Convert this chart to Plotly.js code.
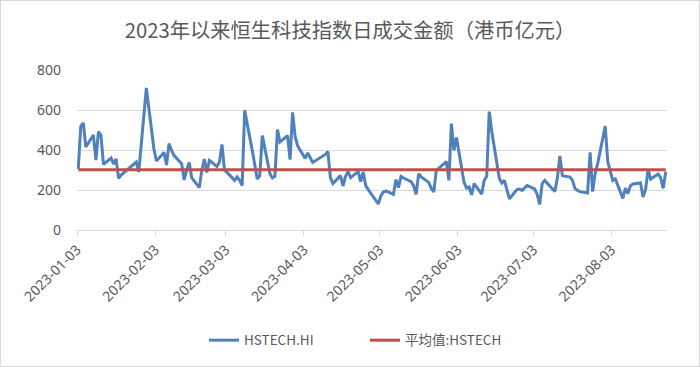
<!DOCTYPE html>
<html>
<head>
<meta charset="utf-8">
<script src="https://cdn.plot.ly/plotly-3.0.1.min.js"></script>
<style>
html,body{margin:0;padding:0;background:#fff;}
#wrap{position:relative;width:700px;height:367px;}
#chart{width:700px;height:367px;}
#frame{position:absolute;left:0;top:0;width:700px;height:367px;box-sizing:border-box;border:1px solid #d9d9d9;pointer-events:none;}
</style>
</head>
<body>
<div id="wrap"><div id="chart"></div><div id="frame"></div></div>
<script>
const titleText = '2023年以来恒生科技指数日成交金额（港币亿元）';
const seriesName = 'HSTECH.HI';
const avgName = '平均值:HSTECH';

const dates = [
'2023-01-03','2023-01-04','2023-01-05','2023-01-06','2023-01-09','2023-01-10','2023-01-11','2023-01-12','2023-01-13',
'2023-01-16','2023-01-17','2023-01-18','2023-01-19','2023-01-20','2023-01-26','2023-01-27','2023-01-30','2023-01-31',
'2023-02-01','2023-02-02','2023-02-03','2023-02-06','2023-02-07','2023-02-08','2023-02-09','2023-02-10',
'2023-02-13','2023-02-14','2023-02-15','2023-02-16','2023-02-17','2023-02-20','2023-02-21','2023-02-22','2023-02-23','2023-02-24',
'2023-02-27','2023-02-28',
'2023-03-01','2023-03-02','2023-03-03','2023-03-06','2023-03-07','2023-03-08','2023-03-09','2023-03-10',
'2023-03-13','2023-03-14','2023-03-15','2023-03-16','2023-03-17','2023-03-20','2023-03-21','2023-03-22','2023-03-23','2023-03-24',
'2023-03-27','2023-03-28','2023-03-29','2023-03-30','2023-03-31',
'2023-04-03','2023-04-04','2023-04-06','2023-04-11','2023-04-12','2023-04-13','2023-04-14',
'2023-04-17','2023-04-18','2023-04-19','2023-04-20','2023-04-21','2023-04-24','2023-04-25','2023-04-26','2023-04-27','2023-04-28',
'2023-05-02','2023-05-03','2023-05-04','2023-05-05','2023-05-08','2023-05-09','2023-05-10','2023-05-11','2023-05-12',
'2023-05-15','2023-05-16','2023-05-17','2023-05-18','2023-05-19','2023-05-22','2023-05-23','2023-05-24','2023-05-25',
'2023-05-29','2023-05-30','2023-05-31',
'2023-06-01','2023-06-02','2023-06-05','2023-06-06','2023-06-07','2023-06-08','2023-06-09',
'2023-06-12','2023-06-13','2023-06-14','2023-06-15','2023-06-16','2023-06-19','2023-06-20','2023-06-21','2023-06-23',
'2023-06-26','2023-06-27','2023-06-28','2023-06-29','2023-06-30',
'2023-07-03','2023-07-04','2023-07-05','2023-07-06','2023-07-07','2023-07-10','2023-07-11','2023-07-12','2023-07-13','2023-07-14',
'2023-07-17','2023-07-18','2023-07-19','2023-07-20','2023-07-21','2023-07-24','2023-07-25','2023-07-26','2023-07-27','2023-07-28',
'2023-07-31',
'2023-08-01','2023-08-02','2023-08-03','2023-08-04','2023-08-07','2023-08-08','2023-08-09','2023-08-10','2023-08-11',
'2023-08-14','2023-08-15','2023-08-16','2023-08-17','2023-08-18','2023-08-21','2023-08-22','2023-08-23','2023-08-24'
];

const turnover = [
305,520,535,415,475,350,492,475,328,
360,330,355,258,275,340,290,710,600,
485,405,345,388,325,432,398,372,
332,250,300,338,262,212,298,355,288,348,
318,340,
428,300,288,248,265,248,222,598,
398,328,255,272,472,282,260,268,502,440,
472,352,588,468,420,
358,385,338,378,392,262,232,
272,220,268,292,262,292,242,290,222,202,
130,170,190,195,178,252,212,268,260,
242,222,178,282,265,238,208,190,298,
342,248,532,
398,462,238,210,215,176,232,
180,248,268,592,492,258,235,248,156,
202,205,198,212,222,
205,178,128,232,248,208,192,258,370,272,
265,248,208,198,192,185,388,192,282,332,
520,
342,288,248,255,158,210,182,222,230,
235,165,202,302,255,280,260,208,292
];

const yTicks = [0, 200, 400, 600, 800];

const avg = turnover.reduce((a, b) => a + b, 0) / turnover.length;
const avgSeries = turnover.map(() => avg);

const fontFamily = '"Noto Sans", "Noto Sans CJK SC", sans-serif';
const cjkFont = '"Noto Sans CJK SC", "Noto Sans", sans-serif';
const textColor = '#595959';

const traces = [
  {
    type: 'scatter', mode: 'lines', name: seriesName,
    x: dates, y: turnover,
    xperiod: 86400000, xperiodalignment: 'middle',
    line: {color: '#4F81BD', width: 3, shape: 'linear'}
  },
  {
    type: 'scatter', mode: 'lines', name: avgName,
    x: dates, y: avgSeries,
    xperiod: 86400000, xperiodalignment: 'middle',
    line: {color: '#C0504D', width: 3}
  }
];

const layout = {
  width: 700, height: 367,
  margin: {l: 77, r: 33, t: 70, b: 137, autoexpand: false},
  paper_bgcolor: '#ffffff', plot_bgcolor: '#ffffff',
  showlegend: true,
  title: {
    text: titleText,
    font: {family: cjkFont, size: 20.3, color: textColor},
    x: 0.5, xref: 'container', xanchor: 'center',
    y: 1 - 31/367, yref: 'container', yanchor: 'middle'
  },
  xaxis: {
    type: 'date',
    range: ['2023-01-03', '2023-08-25'],
    tick0: '2023-01-03', dtick: 'M1', tickformat: '%Y-%m-%d',
    tickangle: -45,
    ticks: 'outside', ticklen: 5, tickcolor: '#d9d9d9', tickwidth: 1,
    showline: true, linecolor: '#d9d9d9', linewidth: 1,
    showgrid: false, zeroline: false,
    tickfont: {family: fontFamily, size: 14, color: textColor}
  },
  yaxis: {
    range: [0, 800],
    tickvals: yTicks, ticktext: yTicks.map(String),
    showgrid: true, gridcolor: '#d9d9d9', gridwidth: 1,
    zeroline: false, showline: false, ticks: '',
    ticklabelstandoff: 15,
    tickfont: {family: fontFamily, size: 14, color: textColor}
  },
  legend: {
    orientation: 'h', x: (204 - 77) / 590, xanchor: 'left',
    y: -0.69, yanchor: 'middle',
    font: {family: cjkFont, size: 13.5, color: textColor},
    itemwidth: 30, entrywidth: 116
  },
  hovermode: false
};

Plotly.newPlot('chart', traces, layout, {displayModeBar: false, staticPlot: true});
</script>
</body>
</html>
